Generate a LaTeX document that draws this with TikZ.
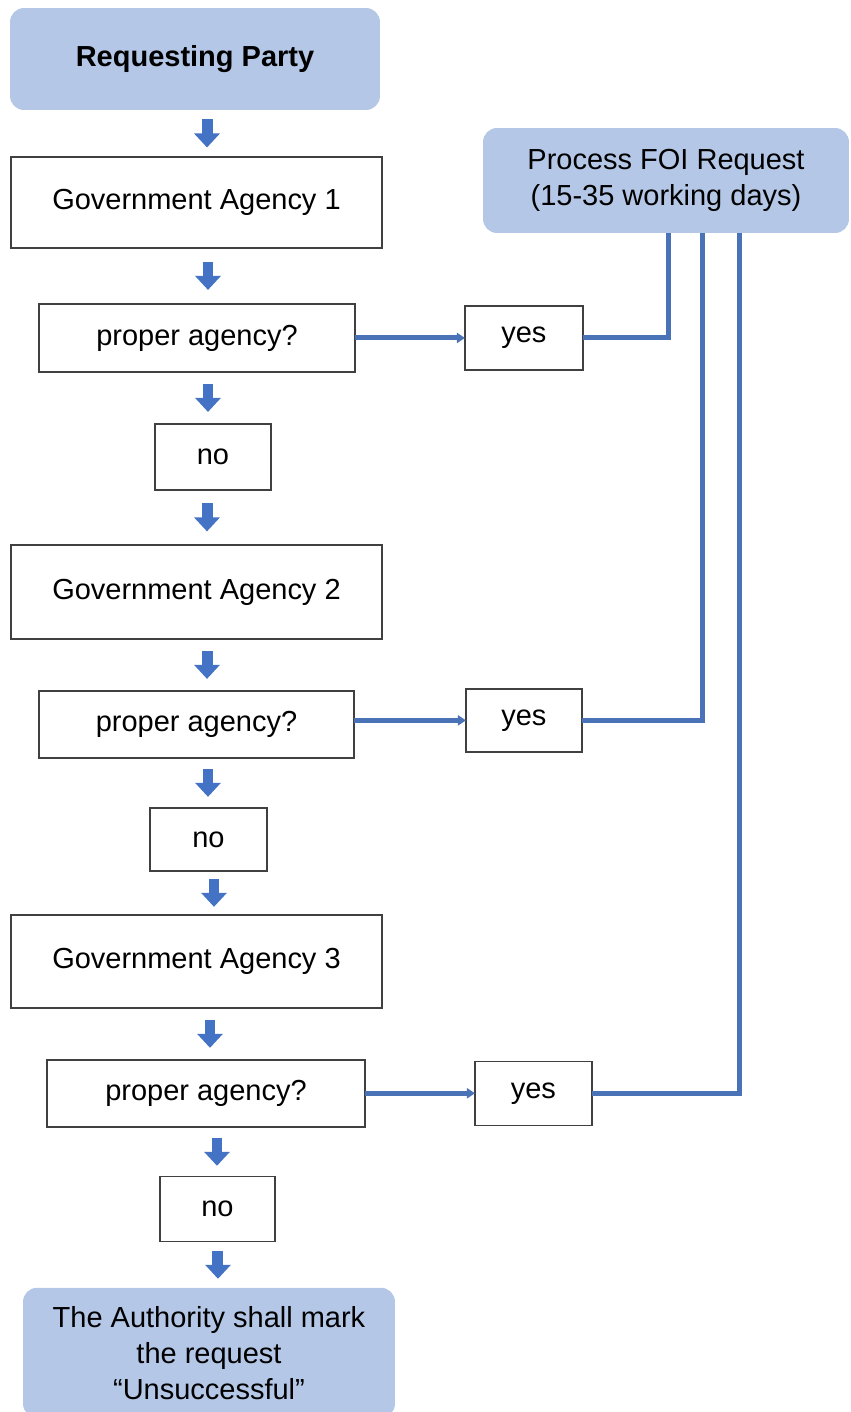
\documentclass[tikz,border=0pt]{standalone}
\usepackage{fontspec}
\setmainfont{Liberation Sans}
\usetikzlibrary{positioning}
\usetikzlibrary{arrows.meta}

\definecolor{boxblue}{HTML}{B4C7E7}
\definecolor{arrowblue}{HTML}{4472C4}
\definecolor{lineblue}{HTML}{4A72B6}
\definecolor{edgegray}{HTML}{404040}

\begin{document}
\begin{tikzpicture}[x = 0.02cm, y = -0.02cm,
		every node/.style = {font = \fontsize{16.5}{20.5}\selectfont, align = center, inner sep = 0pt, outer sep = 0pt},
		plainbox/.style = {draw = edgegray, line width = .8pt, fill = white},
		bluebox/.style = {fill = boxblue, rounded corners = .28cm},
		downarrow/.style = {draw = arrowblue, line width = .22cm, -{Triangle[width = .5cm, length = .28cm]}},
		yesarrow/.style = {draw = lineblue, line width = .1cm, -{Triangle[width = .2cm, length = .16cm]}},
		procline/.style = {draw = lineblue, line width = .1cm}]
		\useasboundingbox (0, 0) rectangle (850, 1412);
		
		\node[bluebox, minimum width = 7.4cm, minimum height = 2.04cm] (A) at (195, 59) {\textbf{Requesting Party}};
		\node[plainbox, minimum width = 7.42cm, minimum height = 1.82cm, below = .94cm of A, xshift = .03cm] (B) {Government Agency 1};
		\node[plainbox, minimum width = 6.32cm, minimum height = 1.36cm, below = 1.12cm of B, xshift = .01cm] (C) {proper agency?};
		\node[plainbox, minimum width = 2.32cm, minimum height = 1.32cm, below = 1.04cm of C, xshift = .32cm] (D) {no};
		\node[plainbox, minimum width = 7.42cm, minimum height = 1.88cm, below = 1.1cm of D, xshift = -.33cm] (E) {Government Agency 2};
		\node[plainbox, minimum width = 6.3cm, minimum height = 1.34cm, below = 1.04cm of E] (F) {proper agency?};
		\node[plainbox, minimum width = 2.34cm, minimum height = 1.26cm, below = 1cm of F, xshift = .24cm] (G) {no};
		\node[plainbox, minimum width = 7.42cm, minimum height = 1.86cm, below = .88cm of G, xshift = -.24cm] (H) {Government Agency 3};
		\node[plainbox, minimum width = 6.36cm, minimum height = 1.34cm, below = 1.04cm of H, xshift = .19cm] (I) {proper agency?};
		\node[plainbox, minimum width = 2.3cm, minimum height = 1.3cm, below = 1cm of I, xshift = .23cm] (J) {no};
		\node[bluebox, minimum width = 7.44cm, minimum height = 2.6cm, below = .92cm of J, xshift = -.17cm] (K) {The Authority shall mark\\the request\\“Unsuccessful”};
		
		\node[bluebox, minimum width = 7.32cm, minimum height = 2.1cm] (L) at (666, 180.5) {Process FOI Request\\(15-35 working days)};
		\node[plainbox, minimum width = 2.36cm, minimum height = 1.28cm, right = 2.2cm of C] (M) {yes};
		\node[plainbox, minimum width = 2.32cm, minimum height = 1.26cm, right = 2.24cm of F, yshift = .08cm] (N) {yes};
		\node[plainbox, minimum width = 2.34cm, minimum height = 1.28cm, right = 2.2cm of I] (O) {yes};
		
		\draw[downarrow, shorten <= .19cm, shorten >= .19cm] ([xshift = .24cm]A.south) -- ([xshift = .24cm]A.south |- B.north);
		\draw[downarrow, shorten <= .28cm, shorten >= .28cm] ([xshift = .23cm]B.south) -- ([xshift = .23cm]B.south |- C.north);
		\draw[downarrow, shorten <= .24cm, shorten >= .24cm] ([xshift = .22cm]C.south) -- ([xshift = .22cm]C.south |- D.north);
		\draw[downarrow, shorten <= .27cm, shorten >= .27cm] ([xshift = -.12cm]D.south) -- ([xshift = -.12cm]D.south |- E.north);
		\draw[downarrow, shorten <= .24cm, shorten >= .24cm] ([xshift = .21cm]E.south) -- ([xshift = .21cm]E.south |- F.north);
		\draw[downarrow, shorten <= .22cm, shorten >= .22cm] ([xshift = .23cm]F.south) -- ([xshift = .23cm]F.south |- G.north);
		\draw[downarrow, shorten <= .16cm, shorten >= .16cm] ([xshift = .11cm]G.south) -- ([xshift = .11cm]G.south |- H.north);
		\draw[downarrow, shorten <= .24cm, shorten >= .24cm] ([xshift = .27cm]H.south) -- ([xshift = .27cm]H.south |- I.north);
		\draw[downarrow, shorten <= .22cm, shorten >= .22cm] ([xshift = .22cm]I.south) -- ([xshift = .22cm]I.south |- J.north);
		\draw[downarrow, shorten <= .18cm, shorten >= .18cm] ([xshift = .01cm]J.south) -- ([xshift = .01cm]J.south |- K.north);
		
		\draw[yesarrow] (M.west -| C.east) -- (M.west);
		\draw[yesarrow] (N.west -| F.east) -- (N.west);
		\draw[yesarrow] (O.west -| I.east) -- (O.west);
		
		\draw[procline] (M.east) -| ([xshift = .04cm]L.south);
		\draw[procline] (N.east) -| ([xshift = .72cm]L.south);
		\draw[procline] (O.east) -| ([xshift = 1.48cm]L.south);
	\end{tikzpicture}
\end{document}
